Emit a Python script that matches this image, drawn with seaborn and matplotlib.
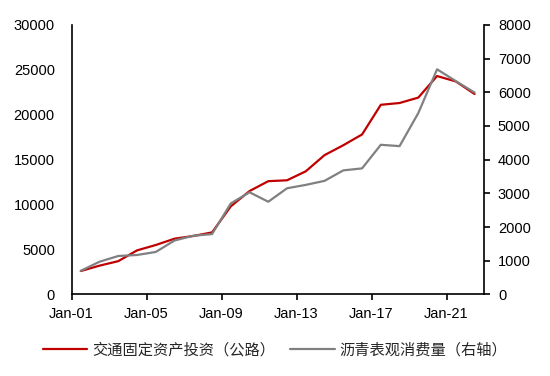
import pandas as pd
import matplotlib
matplotlib.use("Agg")
import matplotlib.pyplot as plt
import matplotlib.dates as mdates
import seaborn as sns

# 年度数据（每年一个点）
years = list(range(2001, 2023))
road_invest = [2600, 3200, 3700, 4900, 5500, 6200, 6500, 6900, 9800, 11500,
               12600, 12700, 13700, 15500, 16600, 17800, 21100, 21300, 21900,
               24300, 23700, 22300]
asphalt = [700, 970, 1140, 1170, 1260, 1600, 1740, 1790, 2700, 3030,
           2750, 3150, 3250, 3370, 3680, 3740, 4440, 4400, 5380, 6680,
           6330, 5990]
label_left = "交通固定资产投资（公路）"
label_right = "沥青表观消费量（右轴）"

df = pd.DataFrame({
    "date": pd.to_datetime([f"{y}-07-01" for y in years]),
    "invest": road_invest,
    "asphalt": asphalt,
})

sns.set_style("white")
plt.rcParams["font.family"] = ["Liberation Sans", "Noto Sans CJK SC", "DejaVu Sans"]

fig = plt.figure(figsize=(5.5, 3.76), dpi=100)
ax = fig.add_axes([0.130, 0.217, 0.750, 0.717])
ax2 = ax.twinx()

sns.lineplot(data=df, x="date", y="invest", ax=ax, color="#C00000",
             linewidth=1.6, label=label_left, legend=False)
sns.lineplot(data=df, x="date", y="asphalt", ax=ax2, color="#808080",
             linewidth=1.6, label=label_right, legend=False)

ax.set_ylim(0, 30000)
ax.set_yticks(range(0, 30001, 5000))
ax2.set_ylim(0, 8000)
ax2.set_yticks(range(0, 8001, 1000))
ax.set_xlim(pd.Timestamp("2001-01-01"), pd.Timestamp("2023-01-01"))
ax.set_xticks(pd.to_datetime([f"{y}-01-01" for y in range(2001, 2022, 4)]))
ax.xaxis.set_major_formatter(mdates.DateFormatter("%b-%y"))
ax.set_xlabel("")
ax.set_ylabel("")
ax2.set_ylabel("")

for a in (ax, ax2):
    for s in a.spines.values():
        s.set_color("black")
        s.set_linewidth(1.2)
    a.spines["top"].set_visible(False)
    a.tick_params(colors="black", labelsize=10.5, length=4, width=1.2,
                  direction="out")
ax.spines["right"].set_visible(False)
ax2.spines["left"].set_visible(False)
ax2.spines["bottom"].set_visible(False)
ax.tick_params(axis="y", left=False, pad=8)
ax.tick_params(axis="x", bottom=True, pad=5)
ax2.tick_params(axis="y", right=True, pad=6)

h1, l1 = ax.get_legend_handles_labels()
h2, l2 = ax2.get_legend_handles_labels()
fig.legend(h1 + h2, l1 + l2, loc="center", bbox_to_anchor=(0.5, 0.068),
           ncol=2, frameon=False, fontsize=11, handlelength=2.9,
           columnspacing=1.0, handletextpad=0.3)

fig.savefig("out.png", dpi=100)
